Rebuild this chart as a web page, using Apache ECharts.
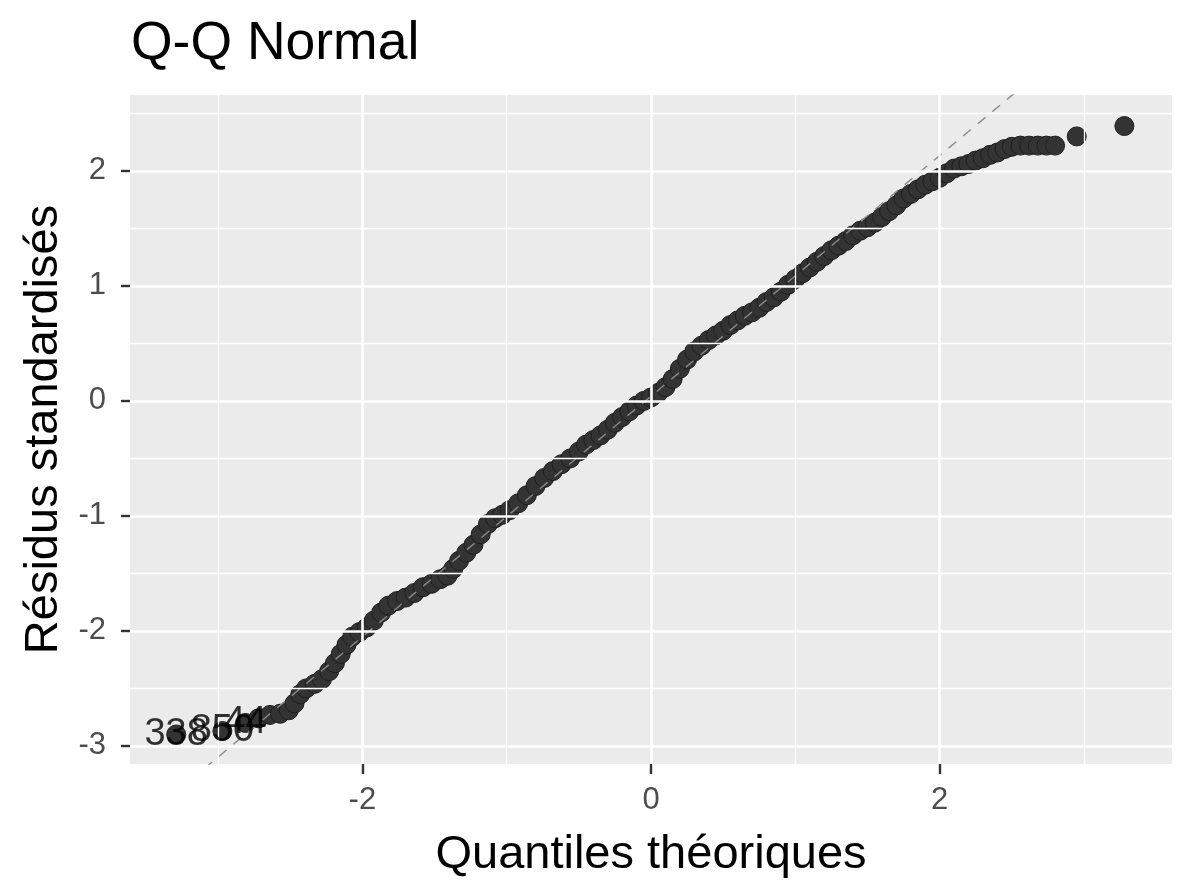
<!DOCTYPE html>
<html><head><meta charset="utf-8">
<script src="https://cdn.jsdelivr.net/npm/echarts@6/dist/echarts.min.js"></script>
<style>html,body{margin:0;padding:0;background:#fff}#c{width:1195px;height:896px}</style>
</head><body><div id="c"></div>
<script>
// Theoretical normal quantiles (x) and standardized residuals (y)
const theoretical = [-3.29,-2.97,-2.81,-2.72,-2.64,-2.57,-2.51,-2.47,-2.43,-2.39,-2.33,-2.28,-2.23,-2.19,-2.15,-2.11,-2.07,-2.02,-1.97,-1.92,-1.87,-1.82,-1.76,-1.70,-1.64,-1.58,-1.52,-1.46,-1.41,-1.37,-1.33,-1.28,-1.23,-1.18,-1.13,-1.08,-1.03,-0.98,-0.92,-0.86,-0.80,-0.74,-0.68,-0.62,-0.56,-0.50,-0.45,-0.40,-0.35,-0.30,-0.25,-0.20,-0.15,-0.10,-0.05,0.00,0.05,0.10,0.15,0.20,0.25,0.30,0.35,0.40,0.45,0.50,0.55,0.60,0.65,0.70,0.75,0.80,0.85,0.90,0.95,1.00,1.05,1.10,1.15,1.20,1.25,1.30,1.35,1.40,1.45,1.50,1.55,1.60,1.65,1.70,1.75,1.80,1.85,1.90,1.95,2.00,2.05,2.10,2.15,2.20,2.25,2.30,2.35,2.40,2.45,2.50,2.56,2.62,2.68,2.74,2.80,2.95,3.28];
const residuals = [-2.90,-2.87,-2.80,-2.76,-2.73,-2.72,-2.69,-2.63,-2.55,-2.50,-2.46,-2.42,-2.35,-2.28,-2.20,-2.12,-2.05,-2.01,-1.97,-1.91,-1.84,-1.78,-1.74,-1.71,-1.67,-1.62,-1.59,-1.55,-1.52,-1.46,-1.39,-1.32,-1.25,-1.16,-1.07,-1.02,-0.99,-0.95,-0.89,-0.82,-0.74,-0.67,-0.61,-0.55,-0.50,-0.44,-0.38,-0.34,-0.30,-0.25,-0.19,-0.14,-0.09,-0.04,0.00,0.03,0.07,0.12,0.19,0.28,0.36,0.43,0.48,0.53,0.57,0.61,0.66,0.70,0.74,0.77,0.81,0.86,0.90,0.95,1.01,1.06,1.11,1.16,1.21,1.26,1.31,1.35,1.39,1.44,1.48,1.51,1.55,1.60,1.65,1.70,1.76,1.80,1.84,1.88,1.91,1.94,1.98,2.02,2.04,2.06,2.09,2.11,2.14,2.16,2.19,2.21,2.22,2.22,2.22,2.22,2.22,2.30,2.39];
// Observation labels for the three most extreme points
const extremeLabels = ['338', '850', '44'];
// Reference (Q-Q) line end points
const qqLineX = [-3.5, 2.8];
const qqLineY = [-3.62, 2.97];
// Ticks / grid
const xMajorTicks = [-2, 0, 2];
const xMinorTicks = [-3, -1, 1, 3];
const yMajorTicks = [-3, -2, -1, 0, 1, 2];
const yMinorTicks = [-2.5, -1.5, -0.5, 0.5, 1.5, 2.5];

// style: pixel nudges of the overlapping text labels
const labelNudges = [[-14, 3], [0, -4], [28, 2]];

const FONT = '"Liberation Sans", Arial, Helvetica, sans-serif';
const chart = echarts.init(document.getElementById('c'), null, {renderer: 'canvas'});

const pts = theoretical.map((x, i) => [x, residuals[i]]);
const labelled = extremeLabels.map((t, i) => ({
  value: [theoretical[i], residuals[i]],
  name: t,
  label: {offset: labelNudges[i]}
}));

const gridLines = [];
xMinorTicks.forEach(v => gridLines.push({xAxis: v, lineStyle: {width: 1.3}}));
yMinorTicks.forEach(v => gridLines.push({yAxis: v, lineStyle: {width: 1.3}}));
xMajorTicks.forEach(v => gridLines.push({xAxis: v, lineStyle: {width: 2.6}}));
yMajorTicks.forEach(v => gridLines.push({yAxis: v, lineStyle: {width: 2.6}}));

chart.setOption({
  animation: false,
  backgroundColor: '#ffffff',
  title: {
    text: 'Q-Q Normal', left: 126, top: 12,
    textStyle: {fontFamily: FONT, fontSize: 53.5, fontWeight: 'normal', color: '#000'}
  },
  grid: {left: 130, right: 23, top: 95, bottom: 132, show: true, backgroundColor: '#EBEBEB', borderWidth: 0},
  xAxis: {
    type: 'value', min: -3.61, max: 3.61,
    name: 'Quantiles théoriques', nameLocation: 'middle', nameGap: 68,
    nameTextStyle: {fontFamily: FONT, fontSize: 47, color: '#000'},
    axisLine: {show: false, onZero: false},
    splitLine: {show: false},
    axisTick: {show: true, customValues: xMajorTicks, length: 10, lineStyle: {color: '#333', width: 2.4}},
    axisLabel: {customValues: xMajorTicks, margin: 21, fontFamily: FONT, fontSize: 31, color: '#4D4D4D'}
  },
  yAxis: {
    type: 'value', min: -3.157, max: 2.66,
    name: 'Résidus standardisés', nameLocation: 'middle', nameGap: 62, nameRotate: 90,
    nameTextStyle: {fontFamily: FONT, fontSize: 47, color: '#000'},
    axisLine: {show: false, onZero: false},
    splitLine: {show: false},
    axisTick: {show: true, customValues: yMajorTicks, length: 9, lineStyle: {color: '#333', width: 2.4}},
    axisLabel: {customValues: yMajorTicks, margin: 24, fontFamily: FONT, fontSize: 31, color: '#4D4D4D'}
  },
  series: [
    {
      type: 'line', data: [], z: 1, silent: true,
      markLine: {
        silent: true, symbol: ['none', 'none'], label: {show: false},
        lineStyle: {color: '#FFFFFF', type: 'solid'},
        emphasis: {disabled: true},
        data: gridLines
      }
    },
    {
      type: 'scatter', z: 3, symbol: 'circle', symbolSize: 19,
      itemStyle: {color: '#333333', borderColor: '#1e1e1e', borderWidth: 1, opacity: 1},
      data: pts
    },
    {
      type: 'scatter', z: 5, symbolSize: 1, silent: true,
      itemStyle: {color: 'rgba(0,0,0,0)'},
      label: {show: true, position: 'inside', formatter: '{b}', fontFamily: FONT, fontSize: 38, color: '#000'},
      labelLayout: {hideOverlap: false},
      data: labelled
    },
    {
      type: 'line', z: 4, clip: true, symbol: 'none', silent: true,
      lineStyle: {color: '#8A8A8A', width: 1.4, type: [10, 9]},
      data: qqLineX.map((x, i) => [x, qqLineY[i]])
    }
  ]
});
</script>
</body></html>
